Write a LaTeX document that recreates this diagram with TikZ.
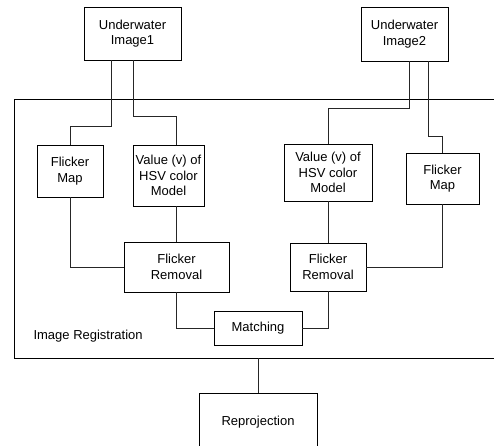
\documentclass[tikz,border=0pt]{standalone}
\usepackage{fontspec}
\setmainfont{Liberation Sans}
\begin{document}
\begin{tikzpicture}[x=1pt,y=-1pt,
  every node/.style={font=\fontsize{13}{15.5}\selectfont},
  blk/.style={draw, line width=0.8pt, rectangle, align=center, inner sep=0pt},
  wire/.style={line width=0.8pt, draw=black!85},
  frm/.style={line width=1pt}]
\useasboundingbox (0,0) rectangle (494,445);
\clip (0,0) rectangle (494,445);
% frame
\draw[frm] (500,99) -- (14,99) -- (14,358) -- (500,358);
\node[anchor=west] (lbl) at (30,336) {Image Registration};
\coordinate (fb) at (258,358);
% nodes
\node[blk, minimum width=97pt, minimum height=53pt] (img1) at (132.5,33.5) {Underwater\\Image1};
\node[blk, minimum width=87pt, minimum height=54pt] (img2) at (404.5,34) {Underwater\\Image2};
\node[blk, minimum width=66pt, minimum height=52pt] (fm1) at (70,171) {Flicker\\Map};
\node[blk, minimum width=71pt, minimum height=61pt] (val1) at (168.5,175.5) {Value (v) of\\HSV color\\Model};
\node[blk, minimum width=88pt, minimum height=57pt] (val2) at (328,172.5) {Value (v) of\\HSV color\\Model};
\node[blk, minimum width=73pt, minimum height=51pt] (fm2) at (442.5,178.5) {Flicker\\Map};
\node[blk, minimum width=105pt, minimum height=50pt] (fr1) at (176.5,267) {Flicker\\Removal};
\node[blk, minimum width=76pt, minimum height=48pt] (fr2) at (328,267) {Flicker\\Removal};
\node[blk, minimum width=88pt, minimum height=34pt] (match) at (258,328) {Matching};
\node[blk, minimum width=118pt, minimum height=58pt, text depth=0pt] (rep) at (258,422) {\raisebox{3pt}{Reprojection}};
% connectors
\draw[wire] ([xshift=-21.5pt]img1.south) -- ++(0,66) -| (fm1.north);
\draw[wire] ([xshift=0.5pt]img1.south) -- ++(0,56) -| (fr1.north |- val1.north);
\draw[wire] ([xshift=4.5pt]img2.south) -- ++(0,47) -| (val2.north);
\draw[wire] ([xshift=23.5pt]img2.south) -- ++(0,75) -| (fm2.north);
\draw[wire] (fm1.south) |- (fr1.west);
\draw[wire] (fr1.north |- val1.south) -- (fr1.north);
\draw[wire] (val2.south) -- (fr2.north);
\draw[wire] (fm2.south) |- (fr2.east);
\draw[wire] (fr1.south) |- (match.west);
\draw[wire] (fr2.south) |- (match.east);
\draw[wire] (fb) -- (rep.north);
\end{tikzpicture}
\end{document}
